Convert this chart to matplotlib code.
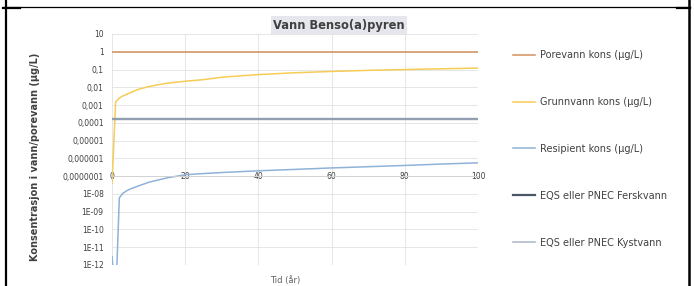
import matplotlib
matplotlib.use("Agg")
import matplotlib.pyplot as plt
from matplotlib.lines import Line2D
from matplotlib.ticker import FixedLocator, FixedFormatter

# tid (år)
tid = [0, 1, 2, 3, 4, 5, 7, 10, 15, 20, 25, 30, 40, 50, 60, 70, 80, 90, 100]

porevann = [1.0] * len(tid)
grunnvann = [4e-8, 0.0015, 0.0025, 0.0033, 0.004, 0.005, 0.0074, 0.011, 0.017, 0.022,
             0.027, 0.037, 0.052, 0.066, 0.078, 0.090, 0.100, 0.110, 0.121]
resipient = [3e-12, 1e-14, 6e-9, 1.1e-8, 1.5e-8, 1.9e-8, 2.7e-8, 4.5e-8, 8e-8, 1.2e-7,
             1.4e-7, 1.6e-7, 2.0e-7, 2.4e-7, 2.9e-7, 3.4e-7, 4.0e-7, 4.8e-7, 5.6e-7]
eqs_fersk = [1.7e-4] * len(tid)
eqs_kyst = [1.7e-4] * len(tid)

y_ticks = [10, 1, 0.1, 0.01, 0.001, 1e-4, 1e-5, 1e-6, 1e-7, 1e-8, 1e-9, 1e-10, 1e-11, 1e-12]
y_labels = ["10", "1", "0,1", "0,01", "0,001", "0,0001", "0,00001", "0,000001", "0,0000001",
            "1E-08", "1E-09", "1E-10", "1E-11", "1E-12"]
x_ticks = [0, 20, 40, 60, 80, 100]

fig = plt.figure(figsize=(6.95, 2.86), dpi=100)
ax = fig.add_axes([112 / 695, 21 / 286, 366 / 695, 231 / 286])

ax.plot(tid, porevann, color="#d4905c", lw=1.1, label="Porevann kons (µg/L)")
ax.plot(tid, grunnvann, color="#f6cc55", lw=1.1, label="Grunnvann kons (µg/L)")
ax.plot(tid, resipient, color="#8fb2d8", lw=1.1, label="Resipient kons (µg/L)")
ax.plot(tid, eqs_fersk, color="#4a5566", lw=1.6, label="EQS eller PNEC Ferskvann")
ax.plot(tid, eqs_kyst, color="#a9b6c8", lw=1.1, label="EQS eller PNEC Kystvann")

ax.set_yscale("log")
ax.set_ylim(1e-12, 10)
ax.set_xlim(0, 100)
ax.yaxis.set_major_locator(FixedLocator(y_ticks))
ax.yaxis.set_major_formatter(FixedFormatter(y_labels))
ax.yaxis.set_minor_locator(FixedLocator([]))
ax.set_xticks(x_ticks)

for s in ["top", "right", "left"]:
    ax.spines[s].set_visible(False)
ax.spines["bottom"].set_position(("data", 1e-7))
ax.spines["bottom"].set_color("#d0d0d0")
ax.spines["bottom"].set_linewidth(0.6)

ax.grid(True, color="#e2e2e2", lw=0.6)
ax.set_axisbelow(True)
ax.tick_params(axis="both", length=0, labelsize=5.5, labelcolor="#404040")
ax.tick_params(axis="y", pad=6)
ax.tick_params(axis="x", pad=-3)

fig.text(339 / 695, 1 - 25 / 286, "Vann Benso(a)pyren", ha="center", va="center",
         fontsize=8.3, fontweight="bold", color="#404040",
         bbox=dict(facecolor="#e6e6ee", edgecolor="none", pad=1.5))
fig.text(35 / 695, 1 - 157 / 286, "Konsentrasjon i vann/porevann (µg/L)", rotation=90,
         ha="center", va="center", fontsize=7, fontweight="bold", color="#404040")
fig.text(285 / 695, 1 - 280 / 286, "Tid (år)", ha="center", va="center",
         fontsize=6, color="#606060")

ax.legend(loc="upper left", bbox_to_anchor=(513 / 695, 1 - 50 / 286),
          bbox_transform=fig.transFigure, frameon=False, fontsize=7,
          labelspacing=3.8, handlelength=2.3, handletextpad=0.5,
          borderpad=0, borderaxespad=0, labelcolor="#404040")

# ramme rundt figuren
fig.add_artist(Line2D([6 / 695, 6 / 695], [0, 1], color="black", lw=1.6, transform=fig.transFigure))
fig.add_artist(Line2D([689 / 695, 689 / 695], [0, 1], color="black", lw=1.8, transform=fig.transFigure))
fig.add_artist(Line2D([3 / 695, 690 / 695], [1 - 7 / 286, 1 - 7 / 286], color="black", lw=0.9,
                      transform=fig.transFigure))
fig.add_artist(Line2D([3 / 695, 20 / 695], [1 - 7.5 / 286, 1 - 7.5 / 286], color="black", lw=1.6,
                      transform=fig.transFigure))
fig.add_artist(Line2D([677 / 695, 690 / 695], [1 - 7.5 / 286, 1 - 7.5 / 286], color="black", lw=1.6,
                      transform=fig.transFigure))

fig.savefig("out.png", dpi=100)
